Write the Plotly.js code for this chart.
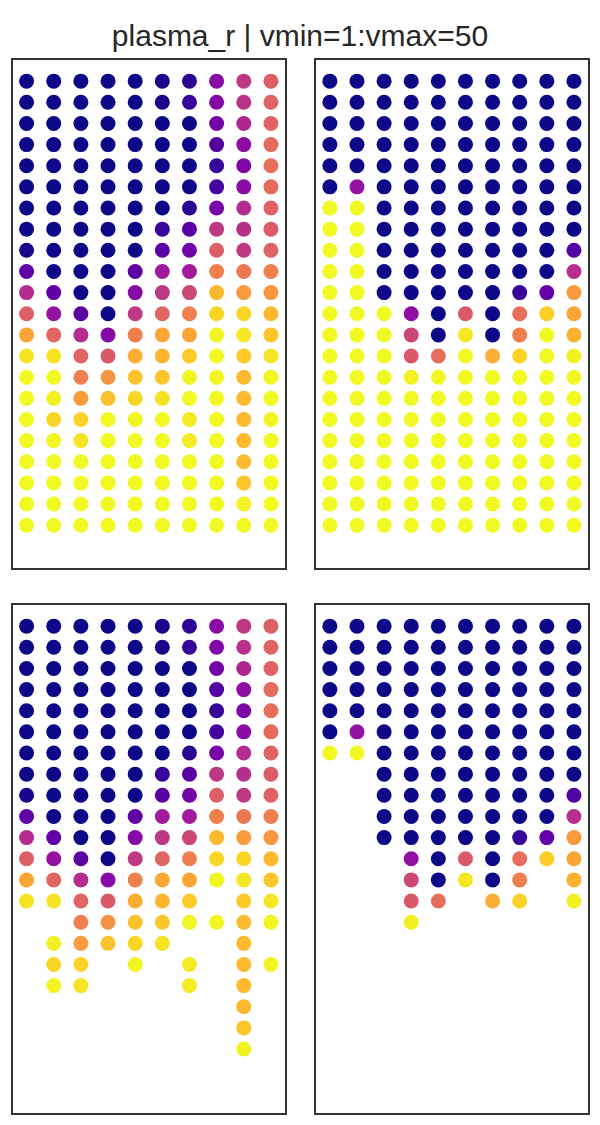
<!DOCTYPE html>
<html>
<head>
<meta charset="utf-8">
<script src="https://cdn.plot.ly/plotly-3.0.1.min.js"></script>
<style>html,body{margin:0;padding:0;background:#fff;}#chart{width:600px;height:1125px;}</style>
</head>
<body>
<div id="chart"></div>
<script>
// Column / row indices of the grid
var columns = [0,1,2,3,4,5,6,7,8,9];
var rows = [0,1,2,3,4,5,6,7,8,9,10,11,12,13,14,15,16,17,18,19,20,21];

// Top-left panel (filled values)
var leftFilled = [
  [50,50,50,50,50,49,47,36,28,21.5],
  [50,50,50,50,50,49,46,37,29,21],
  [50,50,50,50,50,50,50,39,31,21],
  [50,50,50,50,50,50,50,43,35.5,19.5],
  [50,50,50,50,50,50,50,46,37.5,19],
  [50,50,50,50,50,50,50,45,36,19.5],
  [50,50,50,50,50,50,47.5,38.5,30,21],
  [50,50,50,50,50,46,42,28,29.5,22],
  [49,50,50,50,50,42,39,21.5,28,21],
  [41.5,50,50,50,41.5,33,33,16.5,17.5,16.5],
  [30,41.5,50,50,36.5,28,25.5,8.5,12.5,13],
  [21.5,34.5,42,50,28,20.5,16.5,5,5,8.5],
  [11,20.5,30,36.5,16.5,10.8,11,1.5,3,7],
  [3.5,3.5,20.6,22.5,10,9,6.5,1,6.5,3],
  [1,1,16.5,13.5,7.5,7,1.5,1.5,8.5,1.5],
  [1,2,12.5,7.5,5,3.5,1,1,8.5,1],
  [1,5,5.5,1,1.5,1,2.5,1,8.5,1.5],
  [1,1.5,3.5,1,1,1,2.5,1,8.5,1],
  [1,1,1,1,1,1,1,1,8.5,1],
  [1,1,1,1,1,1,1,1,7,1],
  [1,1,1,1,1,1,1,1,1.8,1],
  [1,1,1,1,1,1,1,1,1,1]
];

// Bottom-left panel (raw values, null = missing)
var leftRaw = [
  [50,50,50,50,50,49,47,36,28,21.5],
  [50,50,50,50,50,49,46,37,29,21],
  [50,50,50,50,50,50,50,39,31,21],
  [50,50,50,50,50,50,50,43,35.5,19.5],
  [50,50,50,50,50,50,50,46,37.5,19],
  [50,50,50,50,50,50,50,45,36,19.5],
  [50,50,50,50,50,50,47.5,38.5,30,21],
  [50,50,50,50,50,46,42,28,29.5,22],
  [49,50,50,50,50,42,39,21.5,28,21],
  [41.5,50,50,50,41.5,33,33,16.5,17.5,16.5],
  [30,41.5,50,50,36.5,28,25.5,8.5,12.5,13],
  [21.5,34.5,42,50,28,20.5,16.5,5,5,8.5],
  [11,20.5,30,36.5,16.5,10.8,11,1.5,3,7],
  [3.5,3.5,20.6,22.5,10,9,6.5,null,6.5,3],
  [null,null,16.5,13.5,7.5,7,1.5,1.5,8.5,1.5],
  [null,2,12.5,7.5,5,3.5,null,null,8.5,null],
  [null,5,5.5,null,1.5,null,2.5,null,8.5,1.5],
  [null,1.5,3.5,null,null,null,2.5,null,8.5,null],
  [null,null,null,null,null,null,null,null,8.5,null],
  [null,null,null,null,null,null,null,null,7,null],
  [null,null,null,null,null,null,null,null,1.8,null],
  [null,null,null,null,null,null,null,null,null,null]
];

// Top-right panel (filled values)
var rightFilled = [
  [50,50,50,50,50,50,50,50,50,50],
  [50,50,50,50,50,50,50,50,50,50],
  [50,50,50,50,50,50,50,50,50,50],
  [50,50,50,50,50,50,50,50,50,50],
  [50,50,50,50,50,50,50,50,50,50],
  [50,34.5,50,50,50,50,50,50,50,50],
  [1,1,50,50,50,50,50,50,50,50],
  [1,1,50,50,50,50,50,50,50,50],
  [1,1,50,50,50,50,50,50,50,43],
  [1,1,50,50,50,50,50,50,50,29.5],
  [1,1,50,50,50,50,50,46,41,12.5],
  [1,1,1,35,50,22.5,50,19,6,11],
  [1,1,1,25.5,50,3,50,16.5,1,9.5],
  [1,1,1,22.5,19,1,10,5.5,1,1.8],
  [1,1,1,2,1,1,1,1,1,1],
  [1,1,1,1,1,1,1,1,1,1],
  [1,1,1,1,1,1,1,1,1,1],
  [1,1,1,1,1,1,1,1,1,1],
  [1,1,1,1,1,1,1,1,1,1],
  [1,1,1,1,1,1,1,1,1,1],
  [1,1,1,1,1,1,1,1,1,1],
  [1,1,1,1,1,1,1,1,1,1]
];

// Bottom-right panel (raw values, null = missing)
var rightRaw = [
  [50,50,50,50,50,50,50,50,50,50],
  [50,50,50,50,50,50,50,50,50,50],
  [50,50,50,50,50,50,50,50,50,50],
  [50,50,50,50,50,50,50,50,50,50],
  [50,50,50,50,50,50,50,50,50,50],
  [50,34.5,50,50,50,50,50,50,50,50],
  [1,1,50,50,50,50,50,50,50,50],
  [null,null,50,50,50,50,50,50,50,50],
  [null,null,50,50,50,50,50,50,50,43],
  [null,null,50,50,50,50,50,50,50,29.5],
  [null,null,50,50,50,50,50,46,41,12.5],
  [null,null,null,35,50,22.5,50,19,6,11],
  [null,null,null,25.5,50,3,50,16.5,null,9.5],
  [null,null,null,22.5,19,null,10,5.5,null,1.8],
  [null,null,null,2,null,null,null,null,null,null],
  [null,null,null,null,null,null,null,null,null,null],
  [null,null,null,null,null,null,null,null,null,null],
  [null,null,null,null,null,null,null,null,null,null],
  [null,null,null,null,null,null,null,null,null,null],
  [null,null,null,null,null,null,null,null,null,null],
  [null,null,null,null,null,null,null,null,null,null],
  [null,null,null,null,null,null,null,null,null,null]
];

var titleText = "plasma_r | vmin=1:vmax=50";
var vmin = 1, vmax = 50;

// matplotlib plasma, reversed (low value -> yellow)
var plasmaR = [
  [0.0,'#f0f921'],[0.1,'#fcce25'],[0.2,'#fca636'],[0.3,'#f2844b'],
  [0.4,'#e16462'],[0.5,'#cc4778'],[0.6,'#b12a90'],[0.7,'#8f0da4'],
  [0.8,'#6a00a8'],[0.9,'#41049d'],[1.0,'#0d0887']
];

function makeTrace(mat, xa, ya) {
  var xs = [], ys = [], cs = [];
  for (var r = 0; r < rows.length; r++) {
    for (var c = 0; c < columns.length; c++) {
      var v = mat[r][c];
      if (v === null || v === undefined) continue;
      xs.push(columns[c]); ys.push(rows[r]); cs.push(v);
    }
  }
  return {
    type: 'scatter', mode: 'markers', x: xs, y: ys,
    xaxis: xa, yaxis: ya, hoverinfo: 'skip', showlegend: false,
    marker: {size: 15, color: cs, colorscale: plasmaR, cmin: vmin, cmax: vmax,
             showscale: false, line: {width: 0}}
  };
}

var data = [
  makeTrace(leftFilled, 'x', 'y'),
  makeTrace(rightFilled, 'x2', 'y2'),
  makeTrace(leftRaw, 'x3', 'y3'),
  makeTrace(rightRaw, 'x4', 'y4')
];

function xax(dom, anchor) {
  return {domain: dom, anchor: anchor, range: [-0.5, 9.5], showgrid: false, zeroline: false,
          showticklabels: false, ticks: '', showline: true, mirror: true,
          linecolor: '#333333', linewidth: 2.2, fixedrange: true};
}
function yax(dom, anchor) {
  return {domain: dom, anchor: anchor, range: [23, -1], showgrid: false, zeroline: false,
          showticklabels: false, ticks: '', showline: true, mirror: true,
          linecolor: '#333333', linewidth: 2.2, fixedrange: true};
}

var W = 600, H = 1125;
var xL = [13/W, 284.5/W], xR = [316.3/W, 587.5/W];
var yT = [1 - 567.5/H, 1 - 60/H], yB = [1 - 1112.5/H, 1 - 605/H];

var layout = {
  width: W, height: H,
  margin: {l: 0, r: 0, t: 0, b: 0},
  paper_bgcolor: '#ffffff', plot_bgcolor: '#ffffff',
  font: {family: 'Liberation Sans, Arial, sans-serif', color: '#262626'},
  title: {text: titleText, x: 0.5, xanchor: 'center', xref: 'paper',
          y: 1 - 35/H, yref: 'container', yanchor: 'middle',
          font: {size: 30, color: '#262626', family: 'Liberation Sans, Arial, sans-serif'}},
  xaxis: xax(xL, 'y'), yaxis: yax(yT, 'x'),
  xaxis2: xax(xR, 'y2'), yaxis2: yax(yT, 'x2'),
  xaxis3: xax(xL, 'y3'), yaxis3: yax(yB, 'x3'),
  xaxis4: xax(xR, 'y4'), yaxis4: yax(yB, 'x4')
};

Plotly.newPlot('chart', data, layout, {staticPlot: true, displayModeBar: false});
</script>
</body>
</html>
